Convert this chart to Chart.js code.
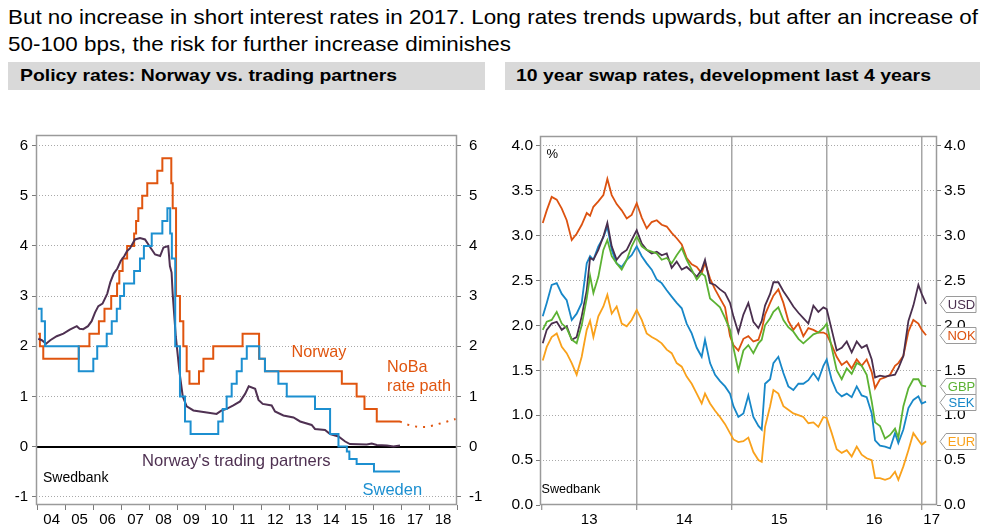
<!DOCTYPE html>
<html>
<head>
<meta charset="utf-8">
<script src="https://cdn.jsdelivr.net/npm/chart.js@4.4.1/dist/chart.umd.min.js"></script>
<style>
html,body{margin:0;padding:0;background:#fff;width:989px;height:532px;overflow:hidden;position:relative;font-family:"Liberation Sans",Arial,sans-serif;}
.t{position:absolute;left:8px;white-space:nowrap;font-size:21px;line-height:24px;color:#000;transform-origin:0 50%;}
.band{position:absolute;top:62px;height:28px;background:#d9d9d9;}
.bt{position:absolute;top:62px;white-space:nowrap;font-weight:bold;font-size:17px;line-height:28px;color:#000;transform-origin:0 50%;}
canvas{position:absolute;top:95px;}
</style>
</head>
<body>
<div class="t" id="t1" style="top:5px">But no increase in short interest rates in 2017. Long rates trends upwards, but after an increase of</div>
<div class="t" id="t2" style="top:32px">50-100 bps, the risk for further increase diminishes</div>
<div class="band" style="left:8px;width:477px"></div>
<div class="band" style="left:505px;width:475px"></div>
<div class="bt" id="b1" style="left:20px">Policy rates: Norway vs. trading partners</div>
<div class="bt" id="b2" style="left:516px">10 year swap rates, development last 4 years</div>
<canvas id="c1" width="500" height="437" style="left:0px"></canvas>
<canvas id="c2" width="489" height="437" style="left:500px"></canvas>
<script>
// ---------------- LEFT PANEL DATA: policy rates ----------------
const policyYears = [2004,2005,2006,2007,2008,2009,2010,2011,2012,2013,2014,2015,2016,2017,2018];
const policyYearLabels = ['04','05','06','07','08','09','10','11','12','13','14','15','16','17','18'];
const policyYTicks = [-1,0,1,2,3,4,5,6];

const norwayDates = [2004.02,2004.08,2004.20,2005.47,2005.85,2006.19,2006.39,2006.63,2006.84,2006.92,2007.04,2007.20,2007.45,2007.52,2007.60,2007.74,2007.92,2008.28,2008.46,2008.78,2008.83,2008.95,2009.09,2009.21,2009.33,2009.43,2009.77,2009.93,2010.28,2011.33,2011.92,2012.13,2014.88,2015.41,2015.69,2016.13,2016.96];
const norwayRates = [2.25,2.0,1.75,2.0,2.25,2.5,2.75,3.0,3.25,3.5,3.75,4.0,4.25,4.5,4.75,5.0,5.25,5.5,5.75,5.25,4.75,3.0,2.5,2.0,1.5,1.25,1.5,1.75,2.0,2.25,1.75,1.5,1.25,1.0,0.75,0.5,0.5];

const pathDates = [2016.96,2017.15,2017.40,2017.65,2017.90,2018.15,2018.40,2018.65,2018.95];
const pathRates = [0.50,0.45,0.41,0.39,0.39,0.42,0.46,0.50,0.55];

const swedenDates = [2004.01,2004.14,2004.26,2005.47,2005.99,2006.13,2006.47,2006.65,2006.83,2006.95,2007.09,2007.45,2007.66,2007.80,2008.08,2008.46,2008.64,2008.74,2008.80,2008.92,2009.09,2009.27,2009.47,2010.46,2010.62,2010.76,2010.94,2011.12,2011.30,2011.48,2011.93,2012.13,2012.61,2012.91,2013.92,2014.46,2014.76,2015.06,2015.15,2015.41,2016.03,2016.96];
const swedenRates = [2.75,2.5,2.0,1.5,1.75,2.0,2.25,2.5,2.75,3.0,3.25,3.5,3.75,4.0,4.25,4.5,4.75,4.25,3.75,2.0,1.0,0.5,0.25,0.5,0.75,1.0,1.25,1.5,1.75,2.0,1.75,1.5,1.25,1.0,0.75,0.25,0.0,-0.1,-0.25,-0.35,-0.5,-0.5];

const partnerDates = [2004.02,2004.15,2004.30,2004.45,2004.68,2004.92,2005.15,2005.40,2005.50,2005.63,2005.80,2005.93,2006.05,2006.17,2006.32,2006.49,2006.60,2006.72,2006.85,2006.97,2007.10,2007.20,2007.30,2007.48,2007.66,2007.84,2007.96,2008.08,2008.20,2008.38,2008.50,2008.67,2008.73,2008.79,2008.83,2008.94,2009.07,2009.19,2009.33,2009.57,2010.05,2010.40,2010.58,2010.76,2011.00,2011.24,2011.42,2011.55,2011.78,2011.90,2012.05,2012.37,2012.49,2012.79,2013.15,2013.39,2013.80,2013.92,2014.28,2014.46,2014.76,2015.00,2015.17,2015.77,2015.95,2016.13,2016.49,2016.73,2016.96];
const partnerRates = [2.15,2.12,2.05,2.12,2.20,2.25,2.33,2.40,2.35,2.34,2.40,2.50,2.67,2.80,2.85,3.05,3.28,3.45,3.55,3.70,3.80,3.90,3.95,4.13,4.16,4.13,4.03,3.93,3.83,3.80,3.97,4.00,3.60,3.47,3.04,2.20,1.50,1.00,0.80,0.72,0.68,0.65,0.72,0.75,0.82,0.90,1.05,1.20,1.15,0.93,0.85,0.82,0.70,0.62,0.58,0.50,0.43,0.35,0.33,0.25,0.20,0.10,0.05,0.04,0.06,0.03,0.02,0.00,0.02];

// ---------------- RIGHT PANEL DATA: 10y swap rates ----------------
const swapYears = [2013,2014,2015,2016,2017];
const swapYearLabels = ['13','14','15','16','17'];
const swapYTicks = [0,0.5,1,1.5,2,2.5,3,3.5,4];
const swapDates = [2013.011,2013.053,2013.105,2013.158,2013.211,2013.263,2013.316,2013.368,2013.421,2013.474,2013.509,2013.544,2013.596,2013.649,2013.691,2013.737,2013.789,2013.842,2013.895,2013.947,2014.000,2014.053,2014.105,2014.158,2014.211,2014.263,2014.316,2014.368,2014.421,2014.474,2014.526,2014.579,2014.632,2014.684,2014.719,2014.772,2014.825,2014.877,2014.930,2014.982,2015.018,2015.070,2015.123,2015.175,2015.228,2015.281,2015.316,2015.351,2015.404,2015.439,2015.491,2015.544,2015.596,2015.649,2015.702,2015.754,2015.807,2015.860,2015.912,2015.965,2016.000,2016.053,2016.105,2016.158,2016.211,2016.263,2016.316,2016.368,2016.421,2016.474,2016.509,2016.561,2016.614,2016.667,2016.719,2016.754,2016.807,2016.860,2016.912,2016.965,2017.000,2017.046];
const nokSwap = [3.14,3.28,3.43,3.40,3.30,3.17,2.95,3.02,3.12,3.25,3.22,3.32,3.38,3.45,3.63,3.45,3.35,3.28,3.19,3.23,3.36,3.20,3.08,3.15,3.17,3.12,3.10,3.03,2.97,2.90,2.75,2.68,2.65,2.58,2.70,2.52,2.40,2.30,2.20,1.88,1.78,1.72,1.85,1.88,1.82,1.84,1.95,2.12,2.25,2.33,2.40,2.25,2.05,1.95,2.02,1.88,1.97,1.95,1.92,1.92,1.90,1.78,1.65,1.56,1.60,1.52,1.62,1.55,1.62,1.48,1.30,1.40,1.42,1.45,1.55,1.58,1.66,1.93,2.06,2.02,1.95,1.89];
const usdSwap = [1.80,1.95,2.02,2.04,1.95,1.99,1.84,1.87,2.10,2.39,2.75,2.73,2.84,2.99,3.14,2.88,2.73,2.80,2.84,2.95,3.06,2.91,2.84,2.80,2.82,2.78,2.80,2.64,2.71,2.62,2.65,2.60,2.54,2.62,2.73,2.47,2.45,2.40,2.36,2.25,2.10,1.92,2.12,2.25,2.04,1.97,2.05,2.22,2.35,2.48,2.48,2.38,2.30,2.21,2.14,2.08,2.02,2.22,2.15,2.20,2.18,1.95,1.72,1.75,1.82,1.70,1.82,1.75,1.78,1.62,1.42,1.44,1.43,1.44,1.45,1.52,1.66,2.05,2.22,2.45,2.35,2.24];
const gbpSwap = [1.95,2.04,2.06,2.15,2.02,1.97,1.84,1.80,2.00,2.30,2.55,2.36,2.54,2.84,2.95,2.77,2.69,2.62,2.73,2.88,2.99,2.88,2.84,2.82,2.80,2.73,2.75,2.69,2.78,2.86,2.73,2.62,2.51,2.58,2.55,2.30,2.25,2.20,2.08,1.95,1.75,1.50,1.72,1.78,1.69,1.80,1.84,2.00,2.08,2.15,2.20,2.06,1.98,1.93,1.85,1.80,1.85,1.90,1.92,1.97,2.02,1.75,1.50,1.40,1.52,1.46,1.58,1.55,1.45,1.15,0.92,0.88,0.74,0.78,0.85,0.75,1.10,1.30,1.40,1.40,1.33,1.32];
const sekSwap = [2.10,2.25,2.45,2.47,2.35,2.28,2.06,2.13,2.25,2.69,2.77,2.73,2.88,2.98,3.10,2.84,2.69,2.65,2.73,2.78,2.88,2.77,2.69,2.62,2.51,2.47,2.39,2.32,2.25,2.19,2.02,1.91,1.75,1.65,1.84,1.58,1.45,1.38,1.32,1.24,1.10,0.98,1.02,1.22,0.98,0.88,0.84,1.35,1.40,1.58,1.65,1.47,1.32,1.28,1.35,1.35,1.39,1.47,1.39,1.55,1.62,1.39,1.26,1.21,1.24,1.20,1.32,1.22,1.20,1.02,0.72,0.66,0.65,0.63,0.80,0.69,0.84,1.08,1.17,1.21,1.13,1.15];
const eurSwap = [1.61,1.76,1.87,1.91,1.76,1.69,1.58,1.45,1.65,1.95,2.05,1.87,2.10,2.21,2.34,2.13,2.21,2.02,1.99,2.06,2.17,2.06,1.91,1.87,1.84,1.80,1.73,1.69,1.58,1.54,1.43,1.35,1.24,1.13,1.24,1.13,1.05,0.98,0.90,0.80,0.73,0.70,0.71,0.75,0.59,0.50,0.48,0.87,1.10,1.28,1.24,1.10,1.06,1.02,1.00,0.98,0.91,0.92,0.87,0.98,0.97,0.80,0.62,0.58,0.61,0.54,0.65,0.56,0.52,0.50,0.30,0.30,0.28,0.30,0.37,0.28,0.43,0.61,0.80,0.72,0.67,0.71];

// ---------------- styling ----------------
const ORANGE = '#e0550f', BLUE = '#1c8fd0', PURPLE = '#4f3152';
const C_NOK = '#dc5210', C_USD = '#4a2f4e', C_GBP = '#5cb233', C_SEK = '#1787c8', C_EUR = '#f9a11b';
const FRAME = '#9a9a9a', GRIDC = '#a9a9a9', TICKC = '#7a7a7a';
const FONT = '"Liberation Sans", Arial, sans-serif';
Chart.defaults.font.family = FONT;
Chart.defaults.color = '#000';

function pts(xs, ys) { return xs.map((x, i) => ({ x: x, y: ys[i] })); }
const isInt = v => Math.abs(v - Math.round(v)) < 1e-9;
const clear = 'rgba(0,0,0,0)';

const framePlugin = {
  id: 'frame',
  afterDraw(c) {
    const a = c.chartArea, ctx = c.ctx;
    ctx.save(); ctx.strokeStyle = FRAME; ctx.lineWidth = 1.5;
    ctx.strokeRect(a.left + 0.5, a.top + 0.5, a.right - a.left - 1, a.bottom - a.top - 1);
    ctx.restore();
  }
};
function textPlugin(items) {
  return {
    id: 'texts',
    afterDraw(c) {
      const ctx = c.ctx; ctx.save(); ctx.textBaseline = 'middle'; ctx.textAlign = 'left';
      items.forEach(t => { ctx.font = t.size + 'px ' + FONT; ctx.fillStyle = t.color; ctx.fillText(t.text, t.x, t.y); });
      ctx.restore();
    }
  };
}
const zeroLine = {
  id: 'zero',
  beforeDatasetsDraw(c) {
    const a = c.chartArea, ctx = c.ctx, y = Math.round(c.scales.y.getPixelForValue(0));
    ctx.save(); ctx.strokeStyle = '#000'; ctx.lineWidth = 2;
    ctx.beginPath(); ctx.moveTo(a.left, y); ctx.lineTo(a.right, y); ctx.stroke(); ctx.restore();
  }
};
const tagPlugin = {
  id: 'tags',
  afterDraw(c) {
    const ctx = c.ctx, a = c.chartArea, ys = c.scales.y;
    c.data.datasets.forEach(ds => {
      const last = ds.data[ds.data.length - 1].y;
      const y = Math.round(ys.getPixelForValue(last)) + 0.5;
      const x0 = a.right + 3, x1 = a.right + 9, x2 = a.right + 39, h = 8;
      ctx.save();
      ctx.beginPath();
      ctx.moveTo(x0, y); ctx.lineTo(x1, y - h); ctx.lineTo(x2, y - h); ctx.lineTo(x2, y + h); ctx.lineTo(x1, y + h); ctx.closePath();
      ctx.fillStyle = '#fff'; ctx.fill(); ctx.strokeStyle = '#9a9a9a'; ctx.lineWidth = 1; ctx.stroke();
      ctx.fillStyle = ds.borderColor; ctx.font = '13px ' + FONT; ctx.textAlign = 'center'; ctx.textBaseline = 'middle';
      ctx.fillText(ds.label, (x1 + x2) / 2 + 0.5, y + 1);
      ctx.restore();
    });
  }
};

const baseOpts = {
  responsive: false, animation: false, events: [],
  elements: { point: { radius: 0 }, line: { tension: 0, borderWidth: 2, borderJoinStyle: 'miter', fill: false } },
  plugins: { legend: { display: false }, tooltip: { enabled: false } }
};

// ---------------- LEFT CHART ----------------
const lMin = 2003.94, lMax = 2019.0;
new Chart(document.getElementById('c1'), {
  type: 'line',
  data: { datasets: [
    { label: 'Sweden', data: pts(swedenDates, swedenRates), borderColor: BLUE, stepped: true },
    { label: "Norway's trading partners", data: pts(partnerDates, partnerRates), borderColor: PURPLE },
    { label: 'Norway', data: pts(norwayDates, norwayRates), borderColor: ORANGE, stepped: true },
    { label: 'NoBa rate path', data: pts(pathDates, pathRates), borderColor: ORANGE, borderDash: [2, 6], borderWidth: 2 }
  ] },
  options: Object.assign({}, baseOpts, {
    layout: { padding: { top: 40, left: 0, right: 0, bottom: 0 } },
    scales: {
      x: {
        type: 'linear', min: lMin, max: lMax,
        afterBuildTicks: s => {
          const t = [];
          policyYears.forEach(y => { t.push({ value: y }); t.push({ value: y + 0.5 }); });
          t.push({ value: policyYears[policyYears.length - 1] + 1 });
          s.ticks = t;
        },
        afterFit: s => { s.height = 27; },
        ticks: { autoSkip: false, maxRotation: 0, minRotation: 0, padding: 1, font: { size: 15 }, color: '#000',
          callback: v => { const i = policyYears.indexOf(Math.round((v - 0.5) * 100) / 100); return isInt(v) || i < 0 ? '' : policyYearLabels[i]; } },
        grid: { drawOnChartArea: false, drawTicks: true, tickLength: 5, tickWidth: 1,
          tickColor: c => (c.tick && isInt(c.tick.value)) ? TICKC : clear },
        border: { display: false }
      },
      y: {
        type: 'linear', position: 'left', min: -1.166, max: 6.213,
        afterBuildTicks: s => { s.ticks = policyYTicks.map(v => ({ value: v })); },
        afterFit: s => { s.width = 36; },
        ticks: { padding: 4, font: { size: 15 }, color: '#000' },
        grid: { drawOnChartArea: true, drawTicks: true, tickLength: 4, tickColor: TICKC, lineWidth: 1,
          color: c => (c.tick && c.tick.value === 0) ? clear : GRIDC },
        border: { display: false, dash: [1, 2] }
      },
      y2: {
        type: 'linear', position: 'right', min: -1.166, max: 6.213,
        afterBuildTicks: s => { s.ticks = policyYTicks.map(v => ({ value: v })); },
        afterFit: s => { s.width = 43; },
        ticks: { padding: 8, font: { size: 15 }, color: '#000' },
        grid: { drawOnChartArea: false, drawTicks: true, tickLength: 4, tickColor: TICKC },
        border: { display: false }
      }
    }
  }),
  plugins: [zeroLine, framePlugin, textPlugin([
    { text: 'Norway', x: 291.5, y: 258, size: 16.2, color: ORANGE },
    { text: 'NoBa', x: 387, y: 273, size: 16.2, color: ORANGE },
    { text: 'rate path', x: 387, y: 292, size: 16.2, color: ORANGE },
    { text: "Norway's trading partners", x: 142, y: 366, size: 16.6, color: PURPLE },
    { text: 'Swedbank', x: 43, y: 383, size: 14, color: '#000' },
    { text: 'Sweden', x: 362.5, y: 395, size: 16.5, color: BLUE }
  ])]
});

// ---------------- RIGHT CHART ----------------
const rMin = 2012.982, rMax = 2017.161;
const swapLabelPos = y => Math.min(y + 0.5, rMax - 0.056);
new Chart(document.getElementById('c2'), {
  type: 'line',
  data: { datasets: [
    { label: 'GBP', data: pts(swapDates, gbpSwap), borderColor: C_GBP, borderWidth: 1.8 },
    { label: 'USD', data: pts(swapDates, usdSwap), borderColor: C_USD, borderWidth: 1.8 },
    { label: 'NOK', data: pts(swapDates, nokSwap), borderColor: C_NOK, borderWidth: 1.8 },
    { label: 'SEK', data: pts(swapDates, sekSwap), borderColor: C_SEK, borderWidth: 1.8 },
    { label: 'EUR', data: pts(swapDates, eurSwap), borderColor: C_EUR, borderWidth: 1.8 }
  ] },
  options: Object.assign({}, baseOpts, {
    layout: { padding: { top: 41, left: 0, right: 0, bottom: 0 } },
    scales: {
      x: {
        type: 'linear', min: rMin, max: rMax,
        afterBuildTicks: s => {
          const t = [];
          swapYears.forEach(y => { t.push({ value: y }); t.push({ value: swapLabelPos(y) }); });
          s.ticks = t;
        },
        afterFit: s => { s.height = 27; },
        ticks: { autoSkip: false, maxRotation: 0, minRotation: 0, padding: 1, font: { size: 15 }, color: '#000',
          callback: v => { if (isInt(v)) return ''; const i = swapYears.findIndex(y => Math.abs(swapLabelPos(y) - v) < 1e-6); return i < 0 ? '' : swapYearLabels[i]; } },
        grid: { drawOnChartArea: true, drawTicks: true, tickLength: 5, tickWidth: 1, lineWidth: 1.5,
          color: c => (c.tick && isInt(c.tick.value) && c.tick.value > swapYears[0]) ? '#a6a6a6' : clear,
          tickColor: c => (c.tick && isInt(c.tick.value)) ? TICKC : clear },
        border: { display: false }
      },
      y: {
        type: 'linear', position: 'left', min: 0, max: 4.108,
        afterBuildTicks: s => { s.ticks = swapYTicks.map(v => ({ value: v })); },
        afterFit: s => { s.width = 40; },
        ticks: { padding: 3, font: { size: 15.5 }, color: '#000', callback: v => v.toFixed(1) },
        grid: { drawOnChartArea: true, drawTicks: true, tickLength: 4, tickColor: TICKC, lineWidth: 1,
          color: c => (c.tick && c.tick.value === 0) ? clear : GRIDC },
        border: { display: false, dash: [1, 2] }
      },
      y2: {
        type: 'linear', position: 'right', min: 0, max: 4.108,
        afterBuildTicks: s => { s.ticks = swapYTicks.map(v => ({ value: v })); },
        afterFit: s => { s.width = 52; },
        ticks: { padding: 3, font: { size: 15.5 }, color: '#000', callback: v => v.toFixed(1) },
        grid: { drawOnChartArea: false, drawTicks: true, tickLength: 4, tickColor: TICKC },
        border: { display: false }
      }
    }
  }),
  plugins: [framePlugin, textPlugin([
    { text: '%', x: 46.5, y: 59, size: 13, color: '#000' },
    { text: 'Swedbank', x: 41.5, y: 395, size: 12.6, color: '#000' }
  ]), tagPlugin]
});

// ---------------- fit header text widths ----------------
function fitW(el, w) { const r = el.getBoundingClientRect().width; const k = w / r; el.style.transform = 'scaleX(' + k + ')'; return k; }
const k1 = fitW(document.getElementById('t1'), 970);
document.getElementById('t2').style.transform = 'scaleX(' + k1 + ')';
fitW(document.getElementById('b1'), 377);
fitW(document.getElementById('b2'), 415);
</script>
</body>
</html>
